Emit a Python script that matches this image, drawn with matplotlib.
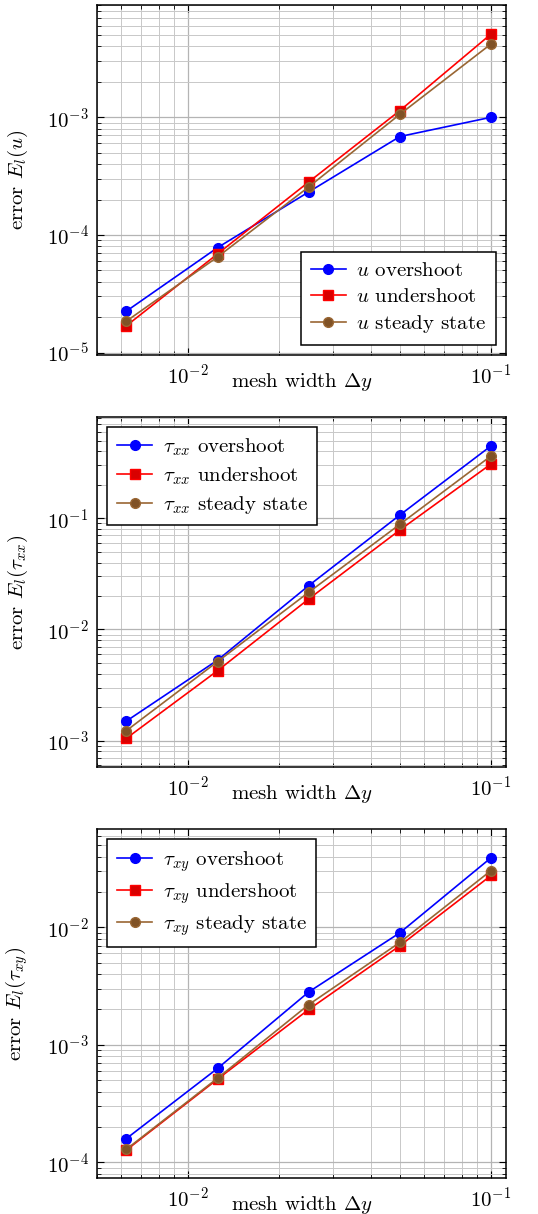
import matplotlib

matplotlib.use("Agg")
import matplotlib.pyplot as plt
from matplotlib.ticker import LogLocator, NullFormatter

plt.rcParams["font.family"] = "serif"
plt.rcParams["font.serif"] = ["cmr10", "DejaVu Serif"]
plt.rcParams["mathtext.fontset"] = "cm"
plt.rcParams["axes.formatter.use_mathtext"] = True
plt.rcParams["font.size"] = 15

# mesh widths
dy = [0.00625, 0.0125, 0.025, 0.05, 0.1]

# error in u
u_over = [2.25e-5, 7.8e-5, 2.32e-4, 6.86e-4, 1.0e-3]
u_under = [1.69e-5, 6.9e-5, 2.82e-4, 1.14e-3, 5.1e-3]
u_steady = [1.85e-5, 6.5e-5, 2.56e-4, 1.06e-3, 4.2e-3]

# error in tau_xx
txx_over = [1.50e-3, 5.3e-3, 2.48e-2, 0.107, 0.448]
txx_under = [1.05e-3, 4.26e-3, 1.88e-2, 7.85e-2, 0.308]
txx_steady = [1.23e-3, 5.14e-3, 2.16e-2, 8.83e-2, 0.364]

# error in tau_xy
txy_over = [1.59e-4, 6.3e-4, 2.82e-3, 9.0e-3, 3.92e-2]
txy_under = [1.27e-4, 5.1e-4, 2.0e-3, 6.98e-3, 2.77e-2]
txy_steady = [1.29e-4, 5.2e-4, 2.2e-3, 7.45e-3, 3.05e-2]

BLUE = (0, 0, 1)
RED = (1, 0, 0)
BROWN = (0.6, 0.4, 0.2)

panels = [
    ("u", [u_over, u_under, u_steady], (9.55e-6, 9.0e-3), "lower right",
     [0.1803, 0.7076, 0.7602, 0.2883]),
    ("\\tau_{xx}", [txx_over, txx_under, txx_steady], (5.77e-4, 0.82), "upper left",
     [0.1803, 0.3680, 0.7602, 0.2888]),
    ("\\tau_{xy}", [txy_over, txy_under, txy_steady], (7.3e-5, 6.88e-2), "upper left",
     [0.1803, 0.0294, 0.7602, 0.2877]),
]

fig = plt.figure(figsize=(5.38, 12.14), dpi=100)

for var, series, ylim, loc, rect in panels:
    ax = fig.add_axes(rect)
    over, under, steady = series
    ax.plot(dy, over, color=BLUE, marker="o", ms=7, lw=1.2,
            label=f"${var}$ overshoot")
    ax.plot(dy, under, color=RED, marker="s", ms=7, lw=1.2,
            mfc=(0.85, 0, 0), label=f"${var}$ undershoot")
    ax.plot(dy, steady, color=BROWN, marker="o", ms=7, lw=1.2,
            mfc=(0.5, 0.32, 0.15), mec=(0.6, 0.4, 0.2),
            label=f"${var}$ steady state")
    ax.set_xscale("log")
    ax.set_yscale("log")
    ax.set_xlim(0.005, 0.112)
    ax.set_ylim(*ylim)
    ax.xaxis.set_minor_locator(LogLocator(base=10, subs=range(2, 10)))
    ax.yaxis.set_minor_locator(LogLocator(base=10, subs=range(2, 10)))
    ax.xaxis.set_minor_formatter(NullFormatter())
    ax.yaxis.set_minor_formatter(NullFormatter())
    ax.grid(True, which="major", color="#b4b4b4", lw=0.9)
    ax.grid(True, which="minor", color="#c8c8c8", lw=0.7)
    ax.set_axisbelow(True)
    ax.tick_params(which="both", direction="in", top=True, right=True)
    ax.tick_params(which="major", length=5, width=0.8, pad=6)
    ax.tick_params(which="minor", length=3, width=0.6)
    for sp in ax.spines.values():
        sp.set_linewidth(1.1)
    ax.set_xlabel("mesh width $\\Delta y$")
    ax.xaxis.set_label_coords(0.5, -0.046)
    ax.set_ylabel(f"error $E_l({var})$")
    ax.yaxis.set_label_coords(-0.164, 0.5)
    leg = ax.legend(loc=loc, fancybox=False, framealpha=1, edgecolor="black",
                    borderaxespad=0.5, handlelength=1.7, handletextpad=0.5,
                    labelspacing=0.35, borderpad=0.45)
    leg.get_frame().set_linewidth(1.1)

fig.savefig("out.png", dpi=100)
